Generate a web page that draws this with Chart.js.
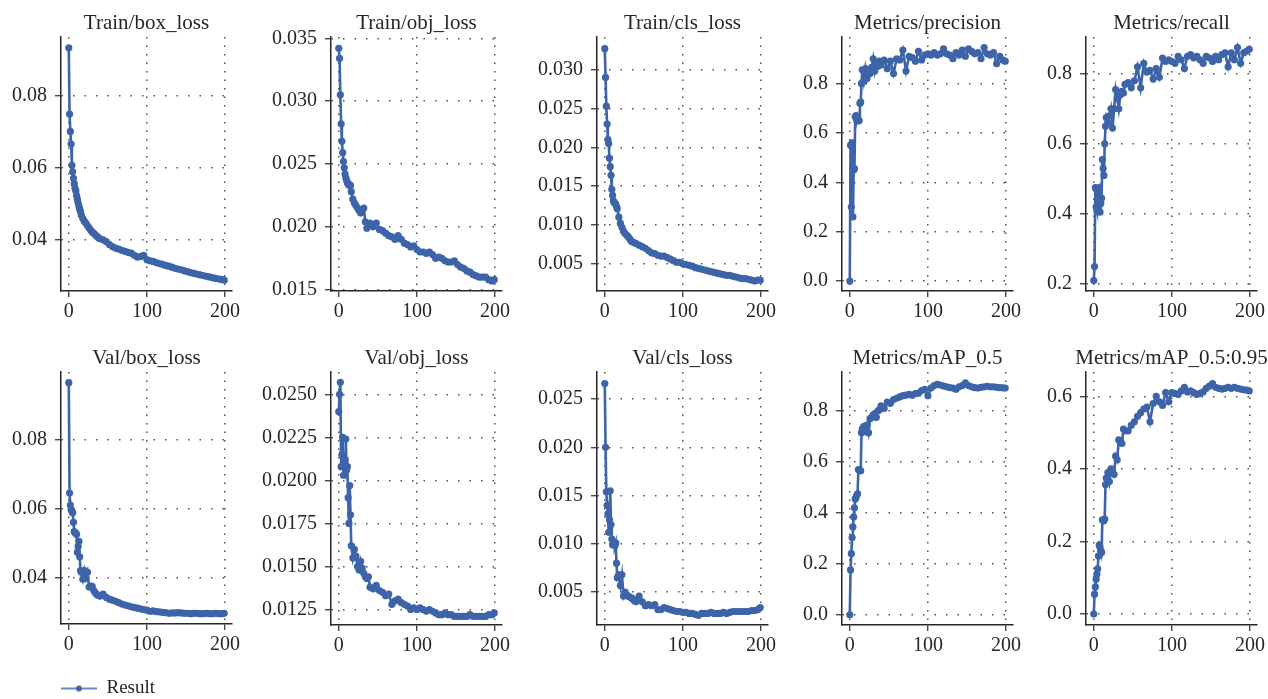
<!DOCTYPE html>
<html>
<head>
<meta charset="utf-8">
<script src="https://cdn.jsdelivr.net/npm/chart.js@4.4.1/dist/chart.umd.min.js"></script>
<style>
  html, body { margin: 0; padding: 0; background: #fff; }
  body { width: 1268px; height: 699px; position: relative; overflow: hidden; }
  canvas { position: absolute; }
</style>
</head>
<body>
<script>
const epochs = [0,1,2,3,4,5,6,7,8,9,10,11,12,13,14,15,16,
  18,20,22,24,26,28,30,32,34,36,38,40,
  44,48,52,56,60,64,68,72,76,80,84,88,92,96,100,
  104,108,112,116,120,124,128,132,136,140,144,148,152,156,
  160,164,168,172,176,180,184,188,192,196,199];

const trainBoxLoss = [0.0932,0.0748,0.0700,0.0665,0.0606,0.0588,0.0570,0.0555,0.0542,0.0535,0.0522,0.0512,0.0502,0.0492,0.0484,0.0478,0.0468,
  0.0458,0.0450,0.0445,0.0438,0.0432,0.0426,0.0421,0.0417,0.0413,0.0409,0.0405,0.0402,
  0.0399,0.0394,0.0386,0.0380,0.0376,0.0373,0.0370,0.0367,0.0364,0.0362,0.0356,0.0351,0.0353,0.0356,0.0344,
  0.0341,0.0339,0.0336,0.0333,0.0331,0.0328,0.0326,0.0323,0.0320,0.0318,0.0316,0.0313,0.0311,0.0308,
  0.0306,0.0304,0.0302,0.0300,0.0298,0.0296,0.0294,0.0292,0.0290,0.0289,0.0287];

const trainObjLoss = [0.0342,0.0334,0.0305,0.0282,0.0268,0.0259,0.0252,0.0247,0.0242,0.0239,0.0237,0.0235,0.0234,0.0234,0.0233,0.0233,0.0228,
  0.0222,0.0219,0.0217,0.0215,0.0213,0.0211,0.0213,0.0215,0.0204,0.0199,0.0202,0.0203,
  0.0200,0.0203,0.0198,0.0197,0.0195,0.0193,0.0192,0.0190,0.0193,0.0190,0.0187,0.0186,0.0184,0.0185,0.0182,
  0.0180,0.0180,0.0179,0.0180,0.0178,0.0175,0.0176,0.0175,0.0173,0.0172,0.0172,0.0173,0.0170,0.0168,
  0.0167,0.0165,0.0164,0.0162,0.0161,0.0160,0.0160,0.0160,0.0158,0.0157,0.0158];

const trainClsLoss = [0.0327,0.0290,0.0253,0.0230,0.0210,0.0205,0.0186,0.0175,0.0164,0.0146,0.0138,0.0131,0.0129,0.0128,0.0127,0.0124,0.0121,
  0.0110,0.0102,0.0097,0.0092,0.0089,0.0087,0.0085,0.0082,0.0079,0.0078,0.0077,0.0076,
  0.0074,0.0072,0.0070,0.0067,0.0064,0.0063,0.0061,0.0060,0.0060,0.0058,0.0056,0.0054,0.0052,0.0052,0.0050,
  0.0049,0.0048,0.0047,0.0045,0.0044,0.0043,0.0042,0.0041,0.0040,0.0039,0.0038,0.0037,0.0036,0.0035,
  0.0035,0.0034,0.0033,0.0032,0.0031,0.0031,0.0030,0.0029,0.0028,0.0029,0.0029];

const precision = [0.000,0.550,0.300,0.560,0.260,0.450,0.455,0.665,0.670,0.650,0.665,0.648,0.650,0.720,0.725,0.800,0.855,
  0.810,0.860,0.820,0.850,0.840,0.865,0.900,0.850,0.880,0.870,0.890,0.875,
  0.895,0.860,0.890,0.840,0.900,0.895,0.935,0.850,0.910,0.905,0.890,0.930,0.895,0.915,0.920,
  0.915,0.925,0.915,0.920,0.940,0.920,0.915,0.900,0.925,0.915,0.935,0.910,0.940,0.930,
  0.920,0.925,0.900,0.945,0.920,0.915,0.925,0.880,0.910,0.895,0.890];

const recall = [0.210,0.250,0.475,0.420,0.410,0.440,0.470,0.475,0.405,0.430,0.445,0.555,0.530,0.510,0.600,0.650,0.675,
  0.660,0.680,0.700,0.645,0.700,0.755,0.730,0.700,0.740,0.750,0.745,0.770,
  0.775,0.760,0.780,0.820,0.760,0.830,0.805,0.810,0.785,0.815,0.790,0.845,0.835,0.840,0.835,
  0.830,0.850,0.840,0.815,0.850,0.855,0.845,0.850,0.840,0.830,0.850,0.845,0.835,0.850,
  0.840,0.855,0.860,0.820,0.860,0.840,0.875,0.830,0.860,0.865,0.870];

const valBoxLoss = [0.0965,0.0645,0.0610,0.0597,0.0592,0.0588,0.0560,0.0533,0.0530,0.0528,0.0525,0.0473,0.0490,0.0505,0.0460,0.0420,0.0415,
  0.0395,0.0420,0.0398,0.0415,0.0372,0.0375,0.0374,0.0362,0.0355,0.0350,0.0348,0.0346,
  0.0352,0.0342,0.0337,0.0334,0.0331,0.0327,0.0323,0.0320,0.0318,0.0315,0.0313,0.0311,0.0309,0.0307,0.0305,
  0.0302,0.0303,0.0301,0.0300,0.0299,0.0298,0.0296,0.0297,0.0297,0.0298,0.0297,0.0296,0.0296,0.0295,
  0.0296,0.0296,0.0295,0.0295,0.0296,0.0295,0.0295,0.0296,0.0295,0.0295,0.0296];

const valObjLoss = [0.0240,0.0250,0.0257,0.0208,0.0215,0.0225,0.0203,0.0210,0.0212,0.0224,0.0206,0.0208,0.0190,0.0175,0.0197,0.0180,0.0162,
  0.0155,0.0160,0.0156,0.0150,0.0148,0.0153,0.0149,0.0146,0.0144,0.0143,0.0144,0.0138,
  0.0137,0.0139,0.0136,0.0135,0.0133,0.0134,0.0128,0.0130,0.0131,0.0129,0.0128,0.0127,0.0125,0.0126,0.0125,
  0.0126,0.0125,0.0124,0.0125,0.0124,0.0123,0.0122,0.0122,0.0123,0.0122,0.0122,0.0121,0.0121,0.0121,
  0.0121,0.0121,0.0122,0.0121,0.0121,0.0121,0.0121,0.0121,0.0122,0.0122,0.0123];

const valClsLoss = [0.0266,0.0200,0.0154,0.0140,0.0131,0.0112,0.0125,0.0155,0.0120,0.0105,0.0099,0.0100,0.0101,0.0098,0.0101,0.0080,0.0065,
  0.0068,0.0057,0.0068,0.0046,0.0050,0.0047,0.0046,0.0045,0.0044,0.0043,0.0041,0.0040,
  0.0046,0.0040,0.0036,0.0037,0.0036,0.0037,0.0032,0.0032,0.0034,0.0033,0.0032,0.0031,0.0030,0.0030,0.0029,
  0.0029,0.0028,0.0028,0.0027,0.0026,0.0028,0.0028,0.0028,0.0029,0.0028,0.0028,0.0028,0.0029,0.0028,
  0.0029,0.0030,0.0030,0.0030,0.0030,0.0030,0.0030,0.0031,0.0031,0.0032,0.0034];

const mAP50 = [0.000,0.176,0.240,0.303,0.345,0.384,0.420,0.455,0.460,0.470,0.475,0.570,0.568,0.566,0.565,0.715,0.730,
  0.740,0.720,0.745,0.715,0.770,0.775,0.785,0.790,0.775,0.800,0.805,0.820,
  0.810,0.835,0.830,0.845,0.850,0.855,0.860,0.862,0.865,0.862,0.868,0.870,0.880,0.885,0.860,
  0.890,0.900,0.905,0.902,0.898,0.895,0.892,0.890,0.885,0.895,0.900,0.910,0.900,0.895,
  0.892,0.890,0.893,0.895,0.897,0.895,0.895,0.893,0.892,0.891,0.890];

const mAP5095 = [0.000,0.055,0.075,0.096,0.110,0.125,0.160,0.190,0.185,0.175,0.170,0.260,0.258,0.257,0.262,0.357,0.375,
  0.390,0.365,0.400,0.395,0.385,0.435,0.425,0.480,0.475,0.470,0.510,0.505,
  0.505,0.520,0.530,0.545,0.555,0.565,0.570,0.530,0.580,0.600,0.585,0.575,0.610,0.585,0.610,
  0.608,0.605,0.615,0.625,0.612,0.615,0.610,0.605,0.608,0.612,0.622,0.628,0.635,0.625,
  0.622,0.620,0.622,0.625,0.622,0.625,0.622,0.620,0.618,0.617,0.615];

// tick labels
const xTicks = [0, 100, 200];
const trainBoxTicks = [0.04, 0.06, 0.08];
const trainObjTicks = [0.015, 0.020, 0.025, 0.030, 0.035];
const trainClsTicks = [0.005, 0.010, 0.015, 0.020, 0.025, 0.030];
const precisionTicks = [0.0, 0.2, 0.4, 0.6, 0.8];
const recallTicks = [0.2, 0.4, 0.6, 0.8];
const valBoxTicks = [0.04, 0.06, 0.08];
const valObjTicks = [0.0125, 0.0150, 0.0175, 0.0200, 0.0225, 0.0250];
const valClsTicks = [0.005, 0.010, 0.015, 0.020, 0.025];
const mAP50Ticks = [0.0, 0.2, 0.4, 0.6, 0.8];
const mAP5095Ticks = [0.0, 0.2, 0.4, 0.6];

const BLUE = '#3d64a9';
const INK = '#262626';
const GRID = 'rgba(50,50,50,0.85)';
const FONT = "'Liberation Serif', 'DejaVu Serif', serif";

const colX = [61, 331, 597, 842, 1086];
const rows = [{top: 37, bottom: 291}, {top: 372, bottom: 625}];

const panels = [
  {title: 'Train/box_loss', data: trainBoxLoss, ticks: trainBoxTicks, dec: 2, min: 0.0257, max: 0.0962, col: 0, row: 0},
  {title: 'Train/obj_loss', data: trainObjLoss, ticks: trainObjTicks, dec: 3, min: 0.0149, max: 0.0351, col: 1, row: 0},
  {title: 'Train/cls_loss', data: trainClsLoss, ticks: trainClsTicks, dec: 3, min: 0.0015, max: 0.0342, col: 2, row: 0},
  {title: 'Metrics/precision', data: precision, ticks: precisionTicks, dec: 1, min: -0.04, max: 0.988, col: 3, row: 0},
  {title: 'Metrics/recall', data: recall, ticks: recallTicks, dec: 1, min: 0.18, max: 0.905, col: 4, row: 0},
  {title: 'Val/box_loss', data: valBoxLoss, ticks: valBoxTicks, dec: 2, min: 0.0265, max: 0.0996, col: 0, row: 1, legend: true},
  {title: 'Val/obj_loss', data: valObjLoss, ticks: valObjTicks, dec: 4, min: 0.0116, max: 0.0263, col: 1, row: 1},
  {title: 'Val/cls_loss', data: valClsLoss, ticks: valClsTicks, dec: 3, min: 0.0016, max: 0.0278, col: 2, row: 1},
  {title: 'Metrics/mAP_0.5', data: mAP50, ticks: mAP50Ticks, dec: 1, min: -0.04, max: 0.953, col: 3, row: 1},
  {title: 'Metrics/mAP_0.5:0.95', data: mAP5095, ticks: mAP5095Ticks, dec: 1, min: -0.03, max: 0.667, col: 4, row: 1}
];

// side boxes are equal so the full-width title is centred on the plot
const SIDE_W = 80, X_H = 34, TITLE_H = 34, AREA_W = 171;
const LEGEND_GAP = 55, LEGEND_H = 28;

// legend mark: a short line with a dot, like the reference
const legendMark = document.createElement('canvas');
legendMark.width = 36; legendMark.height = 10;
const lc = legendMark.getContext('2d');
lc.strokeStyle = BLUE; lc.lineWidth = 1.5;
lc.beginPath(); lc.moveTo(0, 5); lc.lineTo(36, 5); lc.stroke();
lc.fillStyle = BLUE;
lc.beginPath(); lc.arc(18, 5, 3, 0, Math.PI * 2); lc.fill();

panels.forEach(p => {
  const r = rows[p.row];
  const xh = p.legend ? LEGEND_GAP : X_H;
  const w = SIDE_W * 2 + AREA_W;
  const h = TITLE_H + (r.bottom - r.top) + xh + (p.legend ? LEGEND_H : 0);
  const canvas = document.createElement('canvas');
  canvas.width = w; canvas.height = h;
  canvas.style.left = (colX[p.col] - SIDE_W) + 'px';
  canvas.style.top = (r.top - TITLE_H) + 'px';
  document.body.appendChild(canvas);

  new Chart(canvas, {
    type: 'line',
    data: {
      datasets: [{
        label: 'Result',
        data: epochs.map((e, j) => ({x: e, y: p.data[j]})),
        borderColor: BLUE,
        backgroundColor: BLUE,
        borderWidth: 2.6,
        pointRadius: 3.6,
        pointHoverRadius: 3.6,
        pointBorderWidth: 0,
        tension: 0
      }]
    },
    options: {
      responsive: false,
      animation: false,
      devicePixelRatio: 1,
      layout: {padding: 0},
      plugins: {
        title: {
          display: true,
          text: p.title,
          fullSize: true,
          color: INK,
          font: {family: FONT, size: 21, weight: 'normal', lineHeight: 1.15},
          padding: {top: 8, bottom: 1.85}
        },
        legend: {
          display: !!p.legend,
          position: 'bottom',
          align: 'start',
          fullSize: false,
          labels: {
            usePointStyle: true,
            pointStyle: legendMark,
            pointStyleWidth: 36,
            padding: 0,
            color: INK,
            font: {family: FONT, size: 19}
          }
        },
        tooltip: {enabled: false}
      },
      scales: {
        x: {
          type: 'linear',
          min: -9.95,
          max: 208.95,
          afterBuildTicks: s => { s.ticks = xTicks.map(v => ({value: v})); },
          afterFit: s => { s.height = xh; },
          ticks: {
            autoSkip: false, maxRotation: 0, padding: 3, color: INK,
            font: {family: FONT, size: 20},
            callback: v => String(v)
          },
          grid: {color: GRID, lineWidth: 1.5, tickLength: 6, tickColor: INK, tickWidth: 1.2, tickBorderDash: []},
          border: {display: true, color: INK, width: 1.5, dash: [1.5, 7]}
        },
        y: {
          type: 'linear',
          min: p.min,
          max: p.max,
          afterBuildTicks: s => { s.ticks = p.ticks.map(v => ({value: v})); },
          afterFit: s => { s.width = SIDE_W; },
          ticks: {
            autoSkip: false, padding: 8, color: INK,
            font: {family: FONT, size: 20},
            callback: v => Number(v).toFixed(p.dec)
          },
          grid: {color: GRID, lineWidth: 1.5, tickLength: 6, tickColor: INK, tickWidth: 1.2, tickBorderDash: []},
          border: {display: true, color: INK, width: 1.5, dash: [1.5, 10]}
        },
        // empty right-hand box, only there to balance the left axis
        ySpace: {
          type: 'linear',
          position: 'right',
          display: true,
          afterFit: s => { s.width = SIDE_W; },
          ticks: {display: false},
          grid: {display: false},
          border: {display: false}
        }
      }
    }
  });
});
</script>
</body>
</html>
